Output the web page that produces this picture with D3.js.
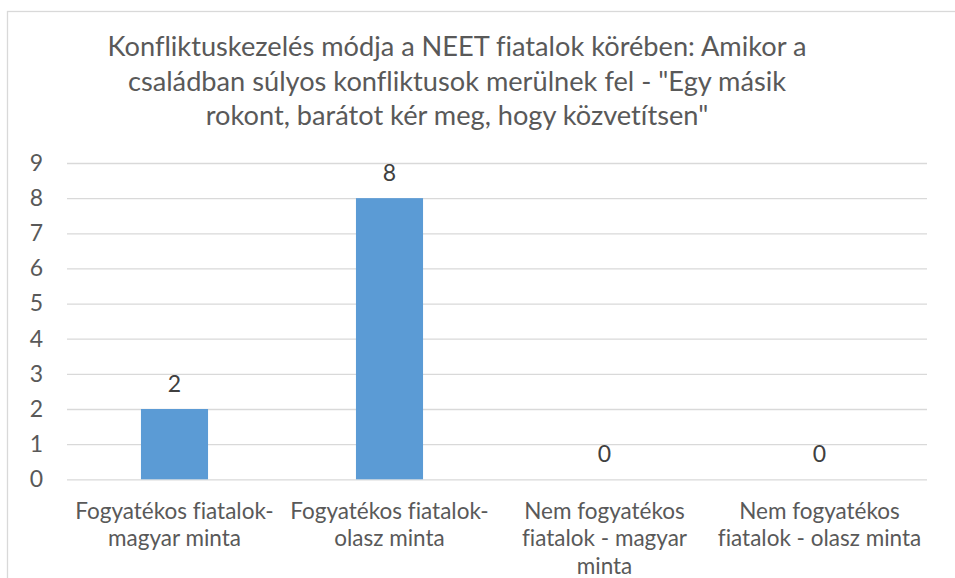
<!DOCTYPE html>
<html>
<head>
<meta charset="utf-8">
<script src="https://cdn.jsdelivr.net/npm/d3@7"></script>
<style>
  html, body { margin: 0; padding: 0; background: #fff; }
  svg { display: block; }
  text { font-family: Lato, "Open Sans", sans-serif; font-variant-ligatures: none; }
</style>
</head>
<body>
<div id="chart"></div>
<script>
'use strict'

const WIDTH = 955
const HEIGHT = 578

const TITLE_LINES = [
  'Konfliktuskezelés módja a NEET fiatalok körében: Amikor a',
  'családban súlyos konfliktusok merülnek fel - "Egy másik',
  'rokont, barátot kér meg, hogy közvetítsen"'
]
const CATEGORIES = [
  'Fogyatékos fiatalok- magyar minta',
  'Fogyatékos fiatalok- olasz minta',
  'Nem fogyatékos fiatalok - magyar minta',
  'Nem fogyatékos fiatalok - olasz minta'
]
const CATEGORY_LINES = [
  ['Fogyatékos fiatalok-', 'magyar minta'],
  ['Fogyatékos fiatalok-', 'olasz minta'],
  ['Nem fogyatékos', 'fiatalok - magyar', 'minta'],
  ['Nem fogyatékos', 'fiatalok - olasz minta']
]
const VALUES = [2, 8, 0, 0]
const Y_TICKS = [0, 1, 2, 3, 4, 5, 6, 7, 8, 9]

const PLOT = { left: 67, right: 927, top: 163, bottom: 479.3 }
const BAR_COLOR = '#5b9bd5'
const GRID_COLOR = '#d9d9d9'
const TEXT_COLOR = '#595959'

const svg = d3.select('#chart').append('svg')
  .attr('width', WIDTH)
  .attr('height', HEIGHT)

// chart area border (runs off the right and bottom edge)
svg.append('rect')
  .attr('x', 7.5)
  .attr('y', 11.5)
  .attr('width', WIDTH + 20)
  .attr('height', HEIGHT + 20)
  .attr('fill', 'none')
  .attr('stroke', GRID_COLOR)
  .attr('stroke-width', 1.3)

svg.append('text')
  .attr('x', 457)
  .attr('y', 56)
  .attr('text-anchor', 'middle')
  .attr('fill', TEXT_COLOR)
  .style('font-size', '27.2px')
  .selectAll('tspan')
  .data(TITLE_LINES)
  .join('tspan')
  .attr('x', 457)
  .attr('dy', (d, i) => i === 0 ? 0 : 34.5)
  .text(d => d)

const x = d3.scaleBand()
  .domain(CATEGORIES)
  .range([PLOT.left, PLOT.right])
  .paddingInner(0.688)
  .paddingOuter(0.344)

const y = d3.scaleLinear()
  .domain([0, 9])
  .range([PLOT.bottom, PLOT.top])

const yAxis = svg.append('g')
  .attr('transform', 'translate(' + PLOT.left + ',0)')
  .call(d3.axisLeft(y).tickValues(Y_TICKS).tickSize(-(PLOT.right - PLOT.left)).tickPadding(24))
yAxis.select('.domain').remove()
yAxis.selectAll('.tick line')
  .attr('stroke', GRID_COLOR)
  .attr('stroke-width', 1.3)
yAxis.selectAll('.tick text')
  .attr('fill', TEXT_COLOR)
  .style('font-size', '23px')
  .style('font-family', 'Lato, "Open Sans", sans-serif')

svg.append('g')
  .selectAll('rect')
  .data(VALUES)
  .join('rect')
  .attr('x', (d, i) => x(CATEGORIES[i]))
  .attr('y', d => y(d))
  .attr('width', x.bandwidth())
  .attr('height', d => y(0) - y(d))
  .attr('fill', BAR_COLOR)

svg.append('g')
  .selectAll('text')
  .data(VALUES)
  .join('text')
  .attr('x', (d, i) => x(CATEGORIES[i]) + x.bandwidth() / 2)
  .attr('y', d => y(d) - 17)
  .attr('text-anchor', 'middle')
  .attr('fill', '#404040')
  .style('font-size', '23px')
  .text(d => d)

const xLabels = svg.append('g')
  .selectAll('text')
  .data(CATEGORY_LINES)
  .join('text')
  .attr('text-anchor', 'middle')
  .attr('fill', TEXT_COLOR)
  .style('font-size', '22.5px')
  .attr('transform', (d, i) => 'translate(' + (x(CATEGORIES[i]) + x.bandwidth() / 2) + ',518.5)')

xLabels.selectAll('tspan')
  .data(d => d)
  .join('tspan')
  .attr('x', 0)
  .attr('y', (d, i) => i * 27.8)
  .text(d => d)
</script>
</body>
</html>
